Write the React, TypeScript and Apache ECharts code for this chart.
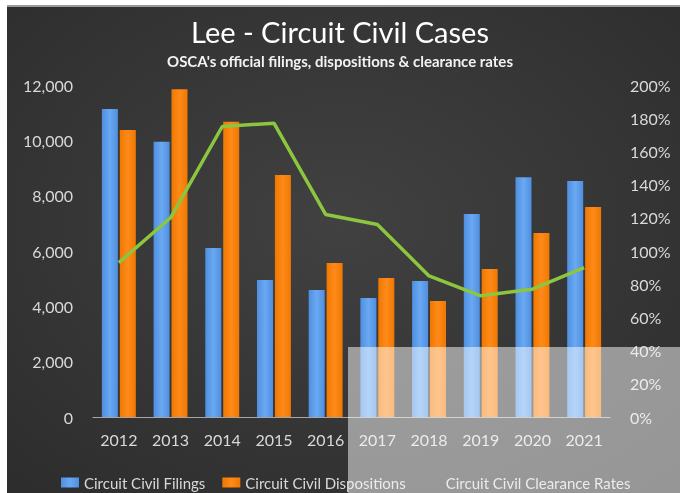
import React, { useEffect, useRef } from 'react';
import * as echarts from 'echarts';

const years = ['2012', '2013', '2014', '2015', '2016', '2017', '2018', '2019', '2020', '2021'];
const filings = [11130, 9950, 6110, 4950, 4590, 4300, 4920, 7340, 8670, 8530];
const dispositions = [10370, 11850, 10670, 8750, 5570, 5020, 4190, 5350, 6650, 7590];
const clearanceRates = [93, 120, 175, 177, 122, 116, 85, 73, 77, 90];

const seriesNames = ['Circuit Civil Filings', 'Circuit Civil Dispositions', 'Circuit Civil Clearance Rates'];
const titleText = 'Lee - Circuit Civil Cases';
const subtitleText = "OSCA's official filings, dispositions & clearance rates";

const FONT = 'Lato';

export default function App() {
  const ref = useRef<HTMLDivElement>(null);
  useEffect(() => {
    if (!ref.current) return;
    const chart = echarts.init(ref.current, null, { renderer: 'svg' });
    chart.setOption({
      animation: false,
      backgroundColor: {
        type: 'radial', x: 0.5, y: 0.45, r: 0.75,
        colorStops: [
          { offset: 0, color: '#414141' },
          { offset: 1, color: '#2c2c2c' },
        ],
      },
      textStyle: { fontFamily: FONT },
      title: [
        {
          text: titleText, left: 'center', top: 12,
          textStyle: { color: '#ffffff', fontSize: 29, fontWeight: 'normal', fontFamily: FONT },
        },
        {
          text: subtitleText, left: 'center', top: 48,
          textStyle: { color: '#f2f2f2', fontSize: 15, fontWeight: 'bold', fontFamily: FONT },
        },
      ],
      legend: {
        left: 61, top: 475, padding: 0, itemWidth: 18, itemHeight: 10, itemGap: 17,
        textStyle: { color: '#d9d9d9', fontSize: 15, fontFamily: FONT },
        data: [
          { name: seriesNames[0], icon: 'rect' },
          { name: seriesNames[1], icon: 'rect' },
          { name: seriesNames[2], icon: 'rect', itemStyle: { color: 'rgba(0,0,0,0)' }, lineStyle: { opacity: 0 } },
        ],
      },
      grid: { left: 93, right: 70, top: 85, bottom: 76 },
      xAxis: {
        type: 'category', data: years,
        axisLine: { lineStyle: { color: '#a6a6a6', width: 1 } },
        axisTick: { show: false },
        axisLabel: { color: '#d9d9d9', fontSize: 16, margin: 14, fontFamily: FONT },
      },
      yAxis: [
        {
          type: 'value', min: 0, max: 12000, interval: 2000,
          splitLine: { show: false }, axisLine: { show: false }, axisTick: { show: false },
          axisLabel: {
            color: '#d9d9d9', fontSize: 16, margin: 20, fontFamily: FONT,
            formatter: (v: number) => v.toLocaleString('en-US'),
          },
        },
        {
          type: 'value', min: 0, max: 200, interval: 20, position: 'right',
          splitLine: { show: false }, axisLine: { show: false }, axisTick: { show: false },
          axisLabel: { color: '#d9d9d9', fontSize: 16, margin: 20, fontFamily: FONT, formatter: '{value}%' },
        },
      ],
      series: [
        {
          name: seriesNames[0], type: 'bar', data: filings, barWidth: 16, barGap: '12%',
          itemStyle: {
            color: {
              type: 'linear', x: 0, y: 0, x2: 1, y2: 0,
              colorStops: [
                { offset: 0, color: '#4f8fe0' },
                { offset: 0.5, color: '#6aa8f2' },
                { offset: 1, color: '#4f8fe0' },
              ],
            },
          },
        },
        {
          name: seriesNames[1], type: 'bar', data: dispositions, barWidth: 16,
          itemStyle: {
            color: {
              type: 'linear', x: 0, y: 0, x2: 1, y2: 0,
              colorStops: [
                { offset: 0, color: '#f07800' },
                { offset: 0.5, color: '#ff8a1a' },
                { offset: 1, color: '#f07800' },
              ],
            },
          },
        },
        {
          name: seriesNames[2], type: 'line', yAxisIndex: 1, data: clearanceRates,
          symbol: 'none', lineStyle: { color: '#8cc63f', width: 3.5 }, itemStyle: { color: '#8cc63f' },
          z: 5,
        },
      ],
      graphic: {
        elements: [
          { type: 'rect', shape: { x: 348, y: 347, width: 332, height: 146 }, style: { fill: 'rgba(255,255,255,0.5)' }, z: 100, silent: true },
          { type: 'rect', shape: { x: 0, y: 0, width: 680, height: 5 }, style: { fill: '#ffffff' }, z: 101, silent: true },
          { type: 'rect', shape: { x: 0, y: 5, width: 680, height: 2 }, style: { fill: '#9a9a9a' }, z: 101, silent: true },
          { type: 'rect', shape: { x: 0, y: 0, width: 7, height: 493 }, style: { fill: '#ffffff' }, z: 102, silent: true },
        ],
      },
    });
    return () => chart.dispose();
  }, []);
  return <div ref={ref} style={{ position: 'fixed', left: 0, top: 0, width: 680, height: 493 }} />;
}
